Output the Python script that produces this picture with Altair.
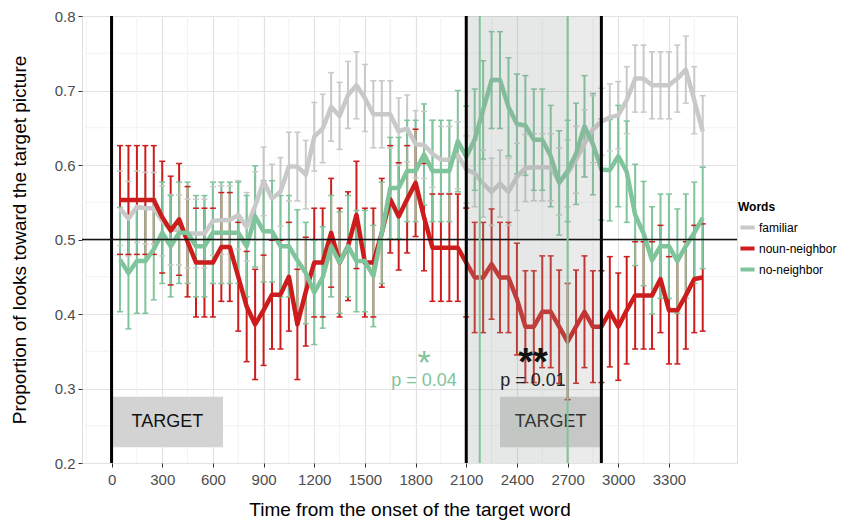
import altair as alt
import pandas as pd

# ---------------- data ----------------
times = [50, 100, 150, 200, 250, 300, 350, 400, 450, 500,
         550, 600, 650, 700, 750, 800, 850, 900, 950, 1000,
         1050, 1100, 1150, 1200, 1250, 1300, 1350, 1400, 1450, 1500,
         1550, 1600, 1650, 1700, 1750, 1800, 1850, 1900, 1950, 2000,
         2050, 2100, 2150, 2200, 2250, 2300, 2350, 2400, 2450, 2500,
         2550, 2600, 2650, 2700, 2750, 2800, 2850, 2900, 2950, 3000,
         3050, 3100, 3150, 3200, 3250, 3300, 3350, 3400, 3450, 3500]

familiar = [0.542, 0.528, 0.544, 0.542, 0.542, 0.525, 0.513, 0.513, 0.508, 0.508,
            0.508, 0.525, 0.526, 0.526, 0.533, 0.517, 0.545, 0.578, 0.555, 0.564,
            0.598, 0.598, 0.587, 0.638, 0.649, 0.678, 0.666, 0.694, 0.707, 0.690,
            0.668, 0.668, 0.668, 0.645, 0.649, 0.628, 0.627, 0.615, 0.607, 0.607,
            0.613, 0.594, 0.589, 0.575, 0.564, 0.575, 0.564, 0.584, 0.596, 0.597,
            0.597, 0.597, 0.578, 0.589, 0.607, 0.629, 0.648, 0.658, 0.664, 0.667,
            0.687, 0.716, 0.716, 0.707, 0.707, 0.707, 0.716, 0.728, 0.687, 0.645]
familiar_se = [0.050, 0.050, 0.048, 0.048, 0.048, 0.047, 0.047, 0.047, 0.046, 0.046,
               0.046, 0.046, 0.046, 0.046, 0.046, 0.046, 0.046, 0.046, 0.046, 0.046,
               0.046, 0.046, 0.046, 0.046, 0.046, 0.046, 0.045, 0.045, 0.045, 0.045,
               0.045, 0.045, 0.045, 0.045, 0.045, 0.045, 0.045, 0.045, 0.045, 0.045,
               0.045, 0.045, 0.045, 0.045, 0.045, 0.045, 0.045, 0.045, 0.045, 0.045,
               0.045, 0.045, 0.045, 0.045, 0.045, 0.045, 0.045, 0.045, 0.045, 0.045,
               0.045, 0.045, 0.045, 0.045, 0.045, 0.045, 0.045, 0.045, 0.045, 0.048]

noun_neighbor = [0.553, 0.553, 0.553, 0.553, 0.553, 0.530, 0.512, 0.527, 0.497, 0.469,
                 0.469, 0.469, 0.490, 0.490, 0.450, 0.410, 0.386, 0.405, 0.426, 0.426,
                 0.450, 0.386, 0.430, 0.469, 0.469, 0.509, 0.469, 0.491, 0.533, 0.469,
                 0.469, 0.509, 0.554, 0.531, 0.554, 0.576, 0.530, 0.489, 0.489, 0.489,
                 0.489, 0.469, 0.449, 0.449, 0.467, 0.449, 0.449, 0.420, 0.383, 0.383,
                 0.403, 0.403, 0.383, 0.363, 0.383, 0.403, 0.383, 0.383, 0.403, 0.383,
                 0.405, 0.425, 0.425, 0.425, 0.447, 0.405, 0.405, 0.425, 0.447, 0.449]
noun_neighbor_se = [0.073, 0.073, 0.073, 0.073, 0.073, 0.075, 0.073, 0.075, 0.074, 0.073,
                    0.073, 0.073, 0.073, 0.073, 0.073, 0.074, 0.074, 0.074, 0.073, 0.073,
                    0.073, 0.074, 0.073, 0.073, 0.073, 0.073, 0.073, 0.073, 0.072, 0.073,
                    0.073, 0.073, 0.072, 0.072, 0.072, 0.072, 0.072, 0.072, 0.072, 0.072,
                    0.072, 0.073, 0.074, 0.074, 0.074, 0.074, 0.074, 0.075, 0.075, 0.075,
                    0.075, 0.075, 0.076, 0.078, 0.076, 0.075, 0.075, 0.075, 0.074, 0.072,
                    0.072, 0.072, 0.072, 0.072, 0.072, 0.072, 0.072, 0.072, 0.072, 0.072]

no_neighbor = [0.473, 0.455, 0.471, 0.471, 0.487, 0.509, 0.491, 0.509, 0.509, 0.491,
               0.491, 0.509, 0.509, 0.509, 0.509, 0.491, 0.531, 0.511, 0.511, 0.491,
               0.491, 0.472, 0.455, 0.429, 0.449, 0.491, 0.469, 0.491, 0.471, 0.471,
               0.451, 0.509, 0.569, 0.569, 0.592, 0.592, 0.614, 0.592, 0.592, 0.592,
               0.632, 0.611, 0.634, 0.674, 0.714, 0.714, 0.678, 0.655, 0.653, 0.634,
               0.634, 0.612, 0.576, 0.592, 0.615, 0.652, 0.628, 0.594, 0.593, 0.612,
               0.591, 0.533, 0.508, 0.472, 0.491, 0.491, 0.471, 0.491, 0.509, 0.529]
no_neighbor_se = [0.070, 0.075, 0.070, 0.070, 0.068, 0.068, 0.068, 0.068, 0.068, 0.068,
                  0.068, 0.068, 0.068, 0.068, 0.068, 0.068, 0.068, 0.068, 0.068, 0.068,
                  0.068, 0.068, 0.068, 0.070, 0.068, 0.068, 0.068, 0.068, 0.068, 0.068,
                  0.068, 0.068, 0.068, 0.068, 0.068, 0.068, 0.068, 0.068, 0.068, 0.068,
                  0.068, 0.068, 0.068, 0.066, 0.065, 0.065, 0.066, 0.067, 0.067, 0.068,
                  0.068, 0.068, 0.070, 0.068, 0.068, 0.068, 0.068, 0.068, 0.068, 0.068,
                  0.068, 0.068, 0.070, 0.072, 0.070, 0.070, 0.070, 0.070, 0.068, 0.068]

words = ["familiar", "noun-neighbor", "no-neighbor"]
word_colors = ["#c9c9c9", "#cc1c1c", "#80c49b"]

x_ticks = [0, 300, 600, 900, 1200, 1500, 1800, 2100, 2400, 2700, 3000, 3300]
x_minor = [-150, 150, 450, 750, 1050, 1350, 1650, 1950, 2250, 2550, 2850, 3150, 3450]
y_ticks = [0.2, 0.3, 0.4, 0.5, 0.6, 0.7, 0.8]
y_minor = [0.25, 0.35, 0.45, 0.55, 0.65, 0.75]

black_lines = [0, 2100, 2900]
green_lines = [2180, 2700]
shade_window = [2100, 2900]
green_window = [2100, 2700]

target_start = [0, 2300]
target_end = [660, 2900]
target_low = 0.221
target_high = 0.289
target_label = ["TARGET", "TARGET"]

sig_t = [1850, 2495]
star_v = 0.336
p_v = 0.31
star_text = ["*", "**"]
p_text = ["p = 0.04", "p = 0.01"]

# ---------------- tables ----------------
rows = []
for w, m, s in zip(words, [familiar, noun_neighbor, no_neighbor],
                   [familiar_se, noun_neighbor_se, no_neighbor_se]):
    for t, mv, sv in zip(times, m, s):
        rows.append({"t": t, "words": w, "v": mv, "lo": mv - sv, "hi": mv + sv})
df = pd.DataFrame(rows)

FONT = "Liberation Sans"
xscale = alt.Scale(domain=[-175, 3703], nice=False, zero=False)
yscale = alt.Scale(domain=[0.2, 0.8], nice=False, zero=False)
xaxis = alt.Axis(values=x_ticks, format="d", title="Time from the onset of the target word",
                 labelFontSize=15, titleFontSize=19, labelColor="#4d4d4d",
                 titleColor="#000000", titleFontWeight="normal", tickSize=4,
                 tickColor="#333333", labelPadding=5, titlePadding=13,
                 grid=True, gridColor="#e2e2e2", gridWidth=1.2, domain=False,
                 labelFont=FONT, titleFont=FONT)
yaxis = alt.Axis(values=y_ticks, format=".1f",
                 title="Proportion of looks toward the target picture",
                 labelFontSize=15, titleFontSize=19, labelColor="#4d4d4d",
                 titleColor="#000000", titleFontWeight="normal", tickSize=4,
                 tickColor="#333333", labelPadding=3, titlePadding=25,
                 grid=True, gridColor="#e2e2e2", gridWidth=1.2, domain=False,
                 labelFont=FONT, titleFont=FONT)


def X(f):
    return alt.X(f"{f}:Q", scale=xscale, axis=xaxis)


def Y(f):
    return alt.Y(f"{f}:Q", scale=yscale, axis=yaxis)


legend = alt.Legend(orient="none", legendX=656, legendY=186, title="Words",
                    titleFontSize=12, titleFontWeight="bold", titleFont=FONT,
                    labelFontSize=12, labelFont=FONT, labelLimit=0,
                    symbolType="stroke", symbolStrokeWidth=4, symbolSize=200,
                    rowPadding=3, titlePadding=4, labelOffset=2, padding=0)
color = alt.Color("words:N", scale=alt.Scale(domain=words, range=word_colors),
                  legend=legend, sort=words)

xminor_df = pd.DataFrame({"t": x_minor})
yminor_df = pd.DataFrame({"v": y_minor})
minor_x = alt.Chart(xminor_df).mark_rule(color="#f2f2f2", strokeWidth=1).encode(x=X("t"))
minor_y = alt.Chart(yminor_df).mark_rule(color="#f2f2f2", strokeWidth=1).encode(y=Y("v"))

tgt_df = pd.DataFrame({"t": target_start, "t2": target_end, "label": target_label,
                       "v": [target_low] * 2, "v2": [target_high] * 2})
tgt_df["mid"] = (tgt_df["t"] + tgt_df["t2"]) / 2
tgt_df["vm"] = (tgt_df["v"] + tgt_df["v2"]) / 2
tgt_rect = alt.Chart(tgt_df).mark_rect(color="#d3d3d3").encode(
    x=X("t"), x2="t2", y=Y("v"), y2="v2")
tgt_text = alt.Chart(tgt_df).mark_text(fontSize=18, font=FONT, color="#111111",
                                       baseline="middle").encode(
    x=X("mid"), y=Y("vm"), text="label:N")

err = alt.Chart(df).mark_rule(strokeWidth=2).encode(
    x=X("t"), y=Y("lo"), y2="hi", color=color)
cap_lo = alt.Chart(df).mark_rule(strokeWidth=1.5, xOffset=-3, x2Offset=3).encode(
    x=X("t"), x2="t", y=Y("lo"), color=color)
cap_hi = alt.Chart(df).mark_rule(strokeWidth=1.5, xOffset=-3, x2Offset=3).encode(
    x=X("t"), x2="t", y=Y("hi"), color=color)
lines = alt.Chart(df).mark_line(strokeWidth=4.5, strokeJoin="round").encode(
    x=X("t"), y=Y("v"), color=color, detail="words:N")

shade_df = pd.DataFrame({"t": [shade_window[0]], "t2": [shade_window[1]]})
gshade_df = pd.DataFrame({"t": [green_window[0]], "t2": [green_window[1]]})
shade = alt.Chart(shade_df).mark_rect(color="#999999", opacity=0.2).encode(
    x=X("t"), x2="t2")
gshade = alt.Chart(gshade_df).mark_rect(color="#80c49b", opacity=0.06).encode(
    x=X("t"), x2="t2")

black_df = pd.DataFrame({"t": black_lines})
vblack = alt.Chart(black_df).mark_rule(color="#000000", strokeWidth=3).encode(x=X("t"))
hline = alt.Chart(pd.DataFrame({"v": [0.5]})).mark_rule(
    color="#111111", strokeWidth=1.5).encode(y=Y("v"))
green_df = pd.DataFrame({"t": green_lines})
vgreen = alt.Chart(green_df).mark_rule(color="#80c49b", strokeWidth=2).encode(x=X("t"))

star_df = pd.DataFrame({"t": sig_t, "v": [star_v] * 2, "label": star_text})
p_df = pd.DataFrame({"t": sig_t, "v": [p_v] * 2, "label": p_text})
star1 = alt.Chart(star_df.iloc[[0]]).mark_text(fontSize=34, font=FONT, color="#80c49b",
                                                baseline="middle", dy=2).encode(
    x=X("t"), y=Y("v"), text="label:N")
star2 = alt.Chart(star_df.iloc[[1]]).mark_text(fontSize=38, font=FONT, fontWeight="bold",
                                                color="#111111", baseline="middle",
                                                dy=2).encode(
    x=X("t"), y=Y("v"), text="label:N")
p1 = alt.Chart(p_df.iloc[[0]]).mark_text(fontSize=18, font=FONT, color="#80c49b",
                                          baseline="middle").encode(
    x=X("t"), y=Y("v"), text="label:N")
p2 = alt.Chart(p_df.iloc[[1]]).mark_text(fontSize=18, font=FONT, color="#222222",
                                          baseline="middle").encode(
    x=X("t"), y=Y("v"), text="label:N")

chart = alt.layer(
    minor_x, minor_y, tgt_rect, tgt_text, err, cap_lo, cap_hi, lines,
    gshade, shade, vblack, hline, vgreen, star1, star2, p1, p2
).properties(
    width=655, height=447, autosize="none",
    padding={"left": 74, "top": 8, "right": 106, "bottom": 60}
).configure_view(stroke="#333333", strokeWidth=1).configure(
    background="white"
)

chart.save("out.html", embed_options={"renderer": "svg", "actions": False})
